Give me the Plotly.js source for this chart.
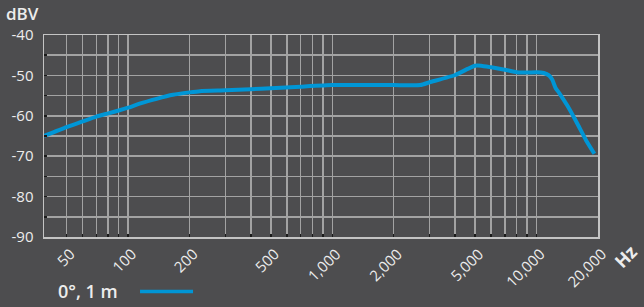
<!DOCTYPE html>
<html>
<head>
<meta charset="utf-8">
<script src="https://cdn.plot.ly/plotly-3.0.1.min.js"></script>
<style>html,body{margin:0;padding:0;background:#4d4d4f;}#chart{width:644px;height:307px;}</style>
</head>
<body>
<div id="chart"></div>
<script>
// Series name
const seriesName = "0°, 1 m";
// Frequency (Hz) and sensitivity (dBV)
const freqHz = [38.8, 50, 60, 70, 80, 90, 100, 114, 138, 166, 200, 225, 300, 400, 500, 700, 1000, 2000, 2700, 3000, 4000, 4600, 5000, 5350, 6000, 7000, 8000, 9000, 10000, 10860, 11500, 11950, 12400, 12900, 14200, 15900, 17500, 19200];
const levelDbv = [-65.0, -62.8, -61.4, -60.2, -59.4, -58.7, -58.0, -57.0, -55.8, -54.8, -54.2, -53.9, -53.7, -53.4, -53.2, -52.8, -52.4, -52.4, -52.4, -51.7, -49.9, -48.4, -47.6, -47.6, -48.0, -48.6, -49.2, -49.3, -49.2, -49.4, -50.0, -51.1, -53.1, -54.3, -57.6, -62.1, -66.1, -69.4];
// X ticks (grid positions) and their labels
const xTickVals = [50, 60, 70, 80, 90, 100, 200, 300, 400, 500, 600, 700, 800, 900, 1000, 2000, 3000, 4000, 5000, 6000, 7000, 8000, 9000, 10000, 20000];
const xTickText = ["50", "", "", "", "", "100", "200", "", "", "500", "", "", "", "", "1,000", "2,000", "", "", "5,000", "", "", "", "", "10,000", "20,000"];
// Y ticks (grid positions) and their labels
const yTickVals = [-90, -85, -80, -75, -70, -65, -60, -55, -50, -45, -40];
const yTickText = ["-90", "", "-80", "", "-70", "", "-60", "", "-50", "", "-40"];
const xRange = [38.8, 20000];
const yRange = [-90, -40];

const FONT = "Open Sans, sans-serif";
const TXT = "#ececec";
const GRID = "#a3a3a3";
const BG = "#4d4d4f";
const BLUE = "#0096d6";

const trace = {
  x: freqHz, y: levelDbv, type: "scatter", mode: "lines", name: seriesName,
  line: {color: BLUE, width: 4, shape: "spline", smoothing: 0.4},
  hoverinfo: "skip", showlegend: false
};
// invisible copy on overlay axis that only carries the small inside tick marks
const tickCarrier = {
  x: freqHz, y: levelDbv, type: "scatter", mode: "lines", yaxis: "y2",
  line: {color: "rgba(0,0,0,0)", width: 0}, hoverinfo: "skip", showlegend: false
};

const layout = {
  width: 644, height: 307,
  paper_bgcolor: BG, plot_bgcolor: BG,
  margin: {l: 44, r: 46, t: 35, b: 70, pad: 0},
  showlegend: false,
  xaxis: {
    type: "log", range: [Math.log10(xRange[0]), Math.log10(xRange[1])],
    tickmode: "array", tickvals: xTickVals, ticktext: xTickText,
    tickangle: -45, ticks: "inside", ticklen: 3, tickwidth: 1.5, tickcolor: "#1a1a1a",
    ticklabelshift: 4, ticklabelstandoff: 1,
    showgrid: true, gridcolor: GRID, gridwidth: 1.5,
    showline: true, linecolor: "#c4c4c4", linewidth: 1.5, mirror: true,
    zeroline: false, tickfont: {family: FONT, size: 15, color: TXT},
    fixedrange: true
  },
  yaxis: {
    range: yRange, tickmode: "array", tickvals: yTickVals, ticktext: yTickText,
    ticks: "outside", ticklen: 6, tickwidth: 1, tickcolor: BG,
    showgrid: true, gridcolor: GRID, gridwidth: 1.5,
    showline: true, linecolor: "#c4c4c4", linewidth: 1.5, mirror: true,
    zeroline: false, tickfont: {family: FONT, size: 15, color: TXT},
    fixedrange: true
  },
  yaxis2: {
    overlaying: "y", side: "left", range: yRange, tickmode: "array", tickvals: yTickVals,
    showticklabels: false, ticks: "inside", ticklen: 3, tickwidth: 1.5, tickcolor: "#1a1a1a",
    showgrid: false, showline: false, zeroline: false, fixedrange: true
  },
  annotations: [
    {text: "dBV", xref: "paper", yref: "paper", x: -0.072, y: 1.104, xanchor: "left", yanchor: "middle",
     showarrow: false, font: {family: FONT, size: 17, color: TXT, weight: 600}},
    {text: "Hz", xref: "paper", yref: "paper", x: 1.05, y: -0.094, xanchor: "center", yanchor: "middle",
     textangle: -45, showarrow: false, font: {family: FONT, size: 18, color: TXT, weight: 700}},
    {text: seriesName, xref: "paper", yref: "paper", x: 0.0217, y: -0.267, xanchor: "left", yanchor: "middle",
     showarrow: false, font: {family: FONT, size: 18, color: TXT, weight: 600}}
  ],
  shapes: [
    {type: "line", xref: "paper", yref: "paper", x0: 0.1733, x1: 0.269, y0: -0.27, y1: -0.27,
     line: {color: BLUE, width: 3.5}}
  ]
};

Plotly.newPlot("chart", [tickCarrier, trace], layout, {displayModeBar: false, staticPlot: true});
</script>
</body>
</html>
